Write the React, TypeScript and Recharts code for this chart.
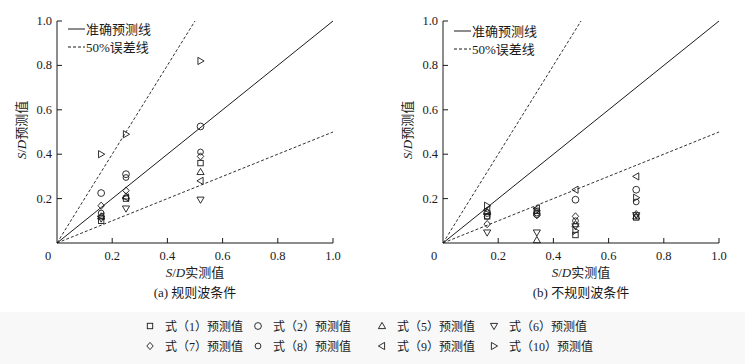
import React from 'react';
import { ScatterChart, Scatter, XAxis, YAxis, ReferenceLine } from 'recharts';

// axis ticks
const xTicks = [0, 0.2, 0.4, 0.6, 0.8, 1.0];
const yTicks = [0.2, 0.4, 0.6, 0.8, 1.0];

// reference lines (accurate / ±50% error)
const exactLine = [{ x: 0, y: 0 }, { x: 1, y: 1 }];
const upperLine = [{ x: 0, y: 0 }, { x: 0.5, y: 1 }];
const lowerLine = [{ x: 0, y: 0 }, { x: 1, y: 0.5 }];

// (a) regular waves: measured S/D
const regMeasured = [0.16, 0.25, 0.52];
const regEq1 = [0.10, 0.20, 0.36];
const regEq2 = [0.225, 0.31, 0.525];
const regEq5 = [0.12, 0.21, 0.32];
const regEq6 = [0.11, 0.155, 0.195];
const regEq7 = [0.168, 0.236, 0.39];
const regEq8 = [0.135, 0.295, 0.41];
const regEq9 = [0.12, 0.205, 0.28];
const regEq10 = [0.40, 0.49, 0.82];

// (b) irregular waves: measured S/D
const irrMeasured = [0.16, 0.34, 0.48, 0.70];
const irrEq1 = [0.12, 0.145, 0.036, 0.115];
const irrEq2 = [0.135, 0.13, 0.195, 0.24];
const irrEq5 = [0.14, 0.013, 0.085, 0.12];
const irrEq6 = [0.047, 0.047, 0.075, 0.125];
const irrEq7 = [0.085, 0.125, 0.12, 0.13];
const irrEq8 = [0.12, 0.135, 0.10, 0.185];
const irrEq9 = [0.15, 0.156, 0.24, 0.30];
const irrEq10 = [0.168, 0.145, 0.055, 0.204];

const seriesNames = ['1', '2', '5', '6', '7', '8', '9', '10'];
const seriesMarks = ['square', 'circle', 'up', 'down', 'diamond', 'smallCircle', 'left', 'right'];

const INK = '#1a1a1a';
const SERIF = "'Liberation Serif', 'Times New Roman', 'Noto Sans CJK SC', serif";

const Marker = ({ kind, cx, cy }: { kind: string; cx: number; cy: number }) => {
  const p = { fill: 'none', stroke: INK, strokeWidth: 0.9 };
  switch (kind) {
    case 'square':
      return <rect x={cx - 2.7} y={cy - 2.7} width={5.4} height={5.4} {...p} />;
    case 'circle':
      return <circle cx={cx} cy={cy} r={3.4} {...p} />;
    case 'smallCircle':
      return <circle cx={cx} cy={cy} r={2.9} {...p} />;
    case 'up':
      return <polygon points={`${cx},${cy - 3.6} ${cx + 3.6},${cy + 2.6} ${cx - 3.6},${cy + 2.6}`} {...p} />;
    case 'down':
      return <polygon points={`${cx},${cy + 3.6} ${cx + 3.6},${cy - 2.6} ${cx - 3.6},${cy - 2.6}`} {...p} />;
    case 'diamond':
      return <polygon points={`${cx},${cy - 3.6} ${cx + 3.2},${cy} ${cx},${cy + 3.6} ${cx - 3.2},${cy}`} {...p} />;
    case 'left':
      return <polygon points={`${cx - 3.6},${cy} ${cx + 2.6},${cy - 3.6} ${cx + 2.6},${cy + 3.6}`} {...p} />;
    case 'right':
    default:
      return <polygon points={`${cx + 3.6},${cy} ${cx - 2.6},${cy - 3.6} ${cx - 2.6},${cy + 3.6}`} {...p} />;
  }
};

const XTick = (props: any) => {
  const { x, y, payload } = props;
  const v = payload.value;
  return (
    <g>
      {v !== 0 && <line x1={x} y1={y} x2={x} y2={y - 5} stroke={INK} />}
      <text x={v === 0 ? x - 9 : x} y={y + 17} textAnchor="middle" fontSize={12.5} fill={INK} fontFamily={SERIF}>
        {v === 0 ? '0' : v.toFixed(1)}
      </text>
    </g>
  );
};

const YTick = (props: any) => {
  const { x, y, payload } = props;
  return (
    <g>
      <line x1={x} y1={y} x2={x + 5} y2={y} stroke={INK} />
      <text x={x - 5} y={y + 4} textAnchor="end" fontSize={12.5} fill={INK} fontFamily={SERIF}>
        {payload.value.toFixed(1)}
      </text>
    </g>
  );
};

const SubChart = ({ measured, groups, left, caption, legendY }: any) => (
  <div style={{ position: 'absolute', left, top: 0, width: 372, height: 300 }}>
    <ScatterChart width={372} height={300} margin={{ top: 21, right: 39, bottom: 27, left: 17 }}>
      <XAxis
        type="number"
        dataKey="x"
        domain={[0, 1]}
        ticks={xTicks}
        height={30}
        tickSize={0}
        tickMargin={0}
        tickLine={false}
        axisLine={{ stroke: INK }}
        tick={<XTick />}
        interval={0}
      />
      <YAxis
        type="number"
        dataKey="y"
        domain={[0, 1]}
        ticks={yTicks}
        width={40}
        tickSize={0}
        tickMargin={0}
        tickLine={false}
        axisLine={{ stroke: INK }}
        tick={<YTick />}
        interval={0}
      />
      <ReferenceLine segment={exactLine} stroke={INK} strokeWidth={1} />
      <ReferenceLine segment={upperLine} stroke={INK} strokeWidth={0.9} strokeDasharray="3 2" />
      <ReferenceLine segment={lowerLine} stroke={INK} strokeWidth={0.9} strokeDasharray="3 2" />
      {groups.map((vals: number[], i: number) => (
        <Scatter
          key={seriesNames[i]}
          name={`式（${seriesNames[i]}）预测值`}
          data={measured.map((x: number, j: number) => ({ x, y: vals[j] }))}
          isAnimationActive={false}
          shape={(p: any) => <Marker kind={seriesMarks[i]} cx={p.cx} cy={p.cy} />}
        />
      ))}
    </ScatterChart>

    {/* in-plot legend */}
    <svg style={{ position: 'absolute', left: 0, top: 0 }} width={200} height={60}>
      <line x1={68} y1={legendY} x2={85} y2={legendY} stroke={INK} />
      <text x={86} y={legendY + 4.5} fontSize={13} fill={INK} fontFamily={SERIF}>准确预测线</text>
      <line x1={68} y1={legendY + 18} x2={85} y2={legendY + 18} stroke={INK} strokeDasharray="3 2" />
      <text x={86} y={legendY + 22.5} fontSize={13} fill={INK} fontFamily={SERIF}>50%误差线</text>
    </svg>

    {/* axis titles */}
    <div
      style={{
        position: 'absolute', left: 20, top: 130, transform: 'translate(-50%, -50%) rotate(-90deg)',
        whiteSpace: 'nowrap', fontSize: 13, fontFamily: SERIF, color: INK,
      }}
    >
      <i>S</i>/<i>D</i>预测值
    </div>
    <div
      style={{
        position: 'absolute', left: 195, top: 271, transform: 'translate(-50%, -50%)',
        whiteSpace: 'nowrap', fontSize: 13, fontFamily: SERIF, color: INK,
      }}
    >
      <i>S</i>/<i>D</i>实测值
    </div>
    <div
      style={{
        position: 'absolute', left: 195, top: 291, transform: 'translate(-50%, -50%)',
        whiteSpace: 'nowrap', fontSize: 13, fontFamily: SERIF, color: INK,
      }}
    >
      {caption}
    </div>
  </div>
);

const legendRows = [
  [0, 1, 2, 3],
  [4, 5, 6, 7],
];
const legendX = [150, 258, 382, 494];

export default function App() {
  return (
    <div style={{ position: 'absolute', left: 0, top: 0, width: 745, height: 364, background: '#fff', overflow: 'hidden' }}>
      <SubChart
        measured={regMeasured}
        groups={[regEq1, regEq2, regEq5, regEq6, regEq7, regEq8, regEq9, regEq10]}
        left={0}
        caption="(a) 规则波条件"
        legendY={29}
      />
      <SubChart
        measured={irrMeasured}
        groups={[irrEq1, irrEq2, irrEq5, irrEq6, irrEq7, irrEq8, irrEq9, irrEq10]}
        left={386}
        caption="(b) 不规则波条件"
        legendY={31}
      />
      <svg style={{ position: 'absolute', left: 0, top: 312 }} width={745} height={52}>
        <rect x={0} y={0} width={745} height={52} fill="#f8f8f8" />
        {legendRows.map((row, r) =>
          row.map((si, c) => (
            <g key={si}>
              <Marker kind={seriesMarks[si]} cx={legendX[c]} cy={14 + r * 20} />
              <text x={legendX[c] + 15} y={18.5 + r * 20} fontSize={12} fill={INK} fontFamily={SERIF}>
                {`式（${seriesNames[si]}）预测值`}
              </text>
            </g>
          ))
        )}
      </svg>
    </div>
  );
}
